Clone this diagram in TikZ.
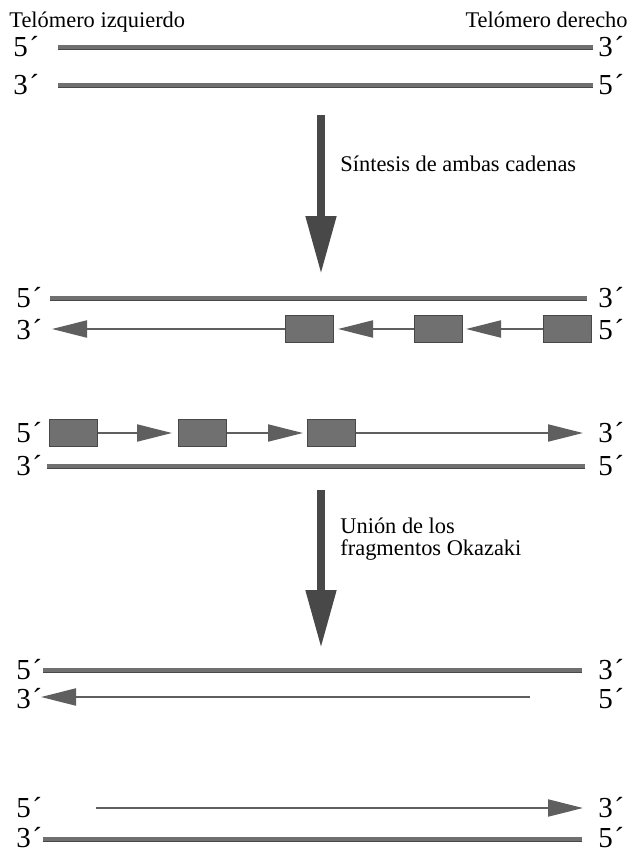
\documentclass[tikz,border=0pt]{standalone}
\usepackage{fontspec}
\setmainfont{Liberation Serif}
\usetikzlibrary{arrows.meta, positioning}
\definecolor{dnagray}{RGB}{112,112,112}
\definecolor{dnadark}{RGB}{72,72,72}
\tikzstyle{diagram}=[x=0.5pt, y=-0.5pt, node distance=40pt]
\tikzstyle{heading}=[font=\fontsize{11.2}{11}\selectfont, inner sep=0pt]
\tikzstyle{endlabel}=[font=\fontsize{14.5}{14}\selectfont, inner sep=0pt,
                      text height=9.6pt, text depth=0pt, anchor=west]
\tikzstyle{strand}=[draw=dnadark, line width=0.45pt, double=dnagray,
                    double distance=1.6pt]
\tikzstyle{newstrand}=[draw=dnagray!85!black, line width=1pt,
                       -{Triangle[length=17.5pt, width=8.5pt]}]
\tikzstyle{fragment}=[draw=dnadark, fill=dnagray, line width=0.5pt,
                      minimum width=24pt, minimum height=13.5pt, inner sep=0pt]
\tikzstyle{process}=[draw=dnadark, line width=4pt,
                     -{Triangle[length=29pt, width=14.5pt]}]
\newcommand{\five}{5\kern0.8pt´}
\newcommand{\three}{3\kern0.8pt´}

\begin{document}
\begin{tikzpicture}[diagram]
  \useasboundingbox (0,0) rectangle (635,853);
  % headings
  \node[heading, anchor=base west] (izq) at (9,27) {Telómero izquierdo};
  \node[heading, anchor=base east] (der) at (628,27) {Telómero derecho};

  % parental duplex
  \node[endlabel] (p5) at (13,47) {\five};
  \node[endlabel] (p3) at (598,47) {\three};
  \node[endlabel] (q3) at (13,85) {\three};
  \node[endlabel] (q5) at (598,85) {\five};
  \coordinate (pa) at (58,47);
  \coordinate (pb) at (593,47);
  \coordinate (qa) at (58,85);
  \coordinate (qb) at (593,85);
  \draw[strand] (pa) -- (pb);
  \draw[strand] (qa) -- (qb);

  % first step
  \coordinate (s1) at (321,115);
  \coordinate (s2) at (321,274);
  \draw[process] (s1) -- (s2);
  \node[heading, anchor=base west] (sint) at (340,171) {Síntesis de ambas cadenas};

  % upper daughter duplex
  \node[endlabel] (a5) at (16,298) {\five};
  \node[endlabel] (a3) at (598,298) {\three};
  \node[endlabel] (b3) at (16,330) {\three};
  \node[endlabel] (b5) at (598,330) {\five};
  \coordinate (aa) at (50,298);
  \coordinate (ab) at (587,298);
  \draw[strand] (aa) -- (ab);
  \node[fragment] (f1) at (309,329) {};
  \node[fragment] (f2) [right=of f1] {};
  \node[fragment] (f3) [right=of f2] {};
  \coordinate (t1) at (52,329);
  \coordinate (t2) at (338,329);
  \coordinate (t3) at (466,329);
  \draw[newstrand] (f1.west) -- (t1);
  \draw[newstrand] (f2.west) -- (t2);
  \draw[newstrand] (f3.west) -- (t3);

  % lower daughter duplex
  \node[endlabel] (c5) at (16,433) {\five};
  \node[endlabel] (c3) at (598,433) {\three};
  \node[endlabel] (d3) at (16,466) {\three};
  \node[endlabel] (d5) at (598,466) {\five};
  \node[fragment] (g1) at (73,433) {};
  \node[fragment] (g2) [right=of g1] {};
  \node[fragment] (g3) [right=of g2] {};
  \coordinate (u1) at (172,433);
  \coordinate (u2) at (303,433);
  \coordinate (u3) at (583,433);
  \draw[newstrand] (g1.east) -- (u1);
  \draw[newstrand] (g2.east) -- (u2);
  \draw[newstrand] (g3.east) -- (u3);
  \coordinate (da) at (47,466);
  \coordinate (db) at (585,466);
  \draw[strand] (da) -- (db);

  % second step
  \coordinate (s3) at (321,490);
  \coordinate (s4) at (321,648);
  \draw[process] (s3) -- (s4);
  \node[heading, anchor=base west] (union) at (340,533) {Unión de los};
  \node[heading, anchor=base west] (okaz) at ([yshift=-11pt]union.base west) {fragmentos Okazaki};

  % final duplexes
  \node[endlabel] (e5) at (16,670) {\five};
  \node[endlabel] (e3) at (598,670) {\three};
  \node[endlabel] (h3) at (16,699) {\three};
  \node[endlabel] (h5) at (598,699) {\five};
  \coordinate (ea) at (43,670);
  \coordinate (eb) at (582,670);
  \draw[strand] (ea) -- (eb);
  \coordinate (ha) at (530,697);
  \coordinate (hb) at (41,697);
  \draw[newstrand] (ha) -- (hb);

  \node[endlabel] (k5) at (16,808) {\five};
  \node[endlabel] (k3) at (598,808) {\three};
  \node[endlabel] (m3) at (16,838) {\three};
  \node[endlabel] (m5) at (598,838) {\five};
  \coordinate (ka) at (96,808);
  \coordinate (kb) at (583,808);
  \draw[newstrand] (ka) -- (kb);
  \coordinate (ma) at (43,839);
  \coordinate (mb) at (582,839);
  \draw[strand] (ma) -- (mb);
\end{tikzpicture}
\end{document}
